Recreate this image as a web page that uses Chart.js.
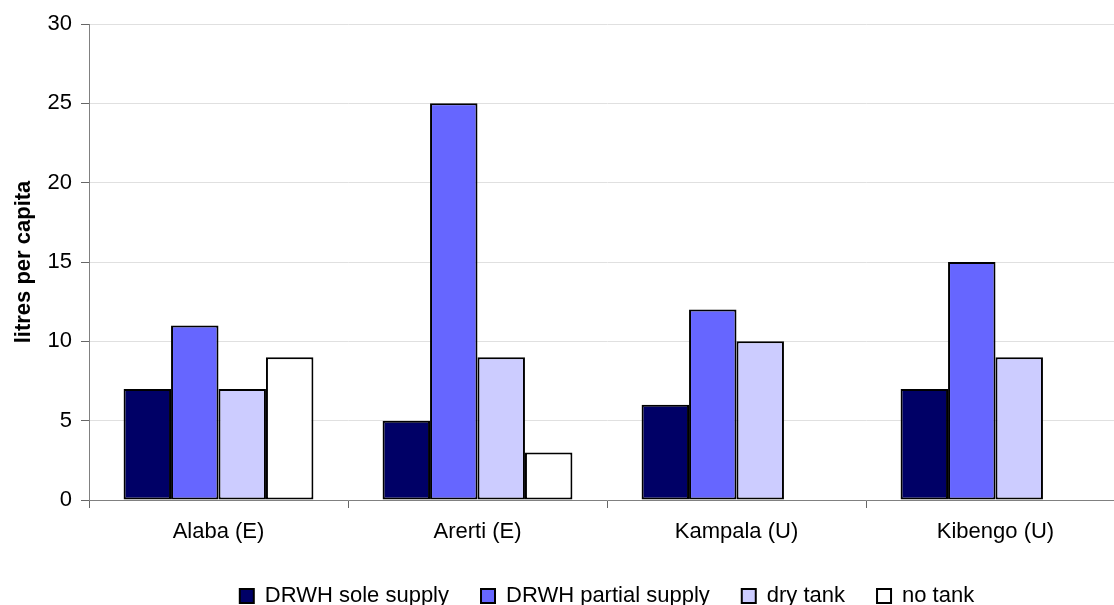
<!DOCTYPE html>
<html lang="en">
<head>
  <meta charset="UTF-8">
  <title>Litres per capita by site</title>
  <script src="https://cdn.jsdelivr.net/npm/chart.js"></script>
  <style>
    html, body { margin: 0; padding: 0; background: #ffffff; overflow: hidden; }
    .wrap { position: relative; width: 1140px; height: 617px; }
  </style>
</head>
<body>
  <div class="wrap">
    <canvas id="barChart"></canvas>
  </div>

  <script>
    const sites = ['Alaba (E)', 'Arerti (E)', 'Kampala (U)', 'Kibengo (U)'];
    const soleSupply = [7, 5, 6, 7];
    const partialSupply = [11, 25, 12, 15];
    const dryTank = [7, 9, 10, 9];
    const noTank = [9, 3, null, null];
    const yTicks = [0, 5, 10, 15, 20, 25, 30];

    const font = "'Liberation Sans', Arial, sans-serif";

    function series(label, data, color) {
      return {
        label: label,
        data: data,
        backgroundColor: color,
        borderColor: '#000000',
        borderWidth: 2,
        borderSkipped: false,
        categoryPercentage: 0.733,
        barPercentage: 1.0
      };
    }

    const ctx = document.getElementById('barChart').getContext('2d');
    new Chart(ctx, {
      type: 'bar',
      data: {
        labels: sites,
        datasets: [
          series('DRWH sole supply', soleSupply, '#000066'),
          series('DRWH partial supply', partialSupply, '#6666ff'),
          series('dry tank', dryTank, '#ccccff'),
          series('no tank', noTank, '#ffffff')
        ]
      },
      options: {
        responsive: true,
        maintainAspectRatio: false,
        animation: false,
        layout: { padding: { top: 24, right: 15, left: 0, bottom: 0 } },
        plugins: {
          legend: {
            position: 'bottom',
            fullSize: false,
            labels: {
              color: '#000000',
              font: { family: font, size: 22 },
              boxWidth: 14,
              boxHeight: 14,
              padding: 32,
              useBorderRadius: false
            }
          },
          tooltip: { enabled: false }
        },
        scales: {
          x: {
            afterFit: function(scale) { scale.height = 53; },
            grid: {
              display: true,
              drawOnChartArea: false,
              drawTicks: true,
              tickLength: 8,
              tickColor: '#666666'
            },
            border: { color: '#808080', width: 1 },
            ticks: {
              color: '#000000',
              font: { family: font, size: 22 },
              padding: 11,
              maxRotation: 0
            }
          },
          y: {
            min: 0,
            max: 30,
            afterFit: function(scale) { scale.width = 89; },
            afterBuildTicks: function(scale) {
              scale.ticks = yTicks.map(v => ({ value: v }));
            },
            grid: {
              color: '#e0e0e0',
              lineWidth: 1,
              drawTicks: true,
              tickLength: 8,
              tickColor: '#666666'
            },
            border: { color: '#808080', width: 1 },
            ticks: {
              color: '#000000',
              font: { family: font, size: 22 },
              padding: 9
            },
            title: {
              display: true,
              text: 'litres per capita',
              color: '#000000',
              font: { family: font, size: 22, weight: 'bold' },
              padding: { top: 11, bottom: 0 }
            }
          }
        }
      }
    });
  </script>
</body>
</html>
